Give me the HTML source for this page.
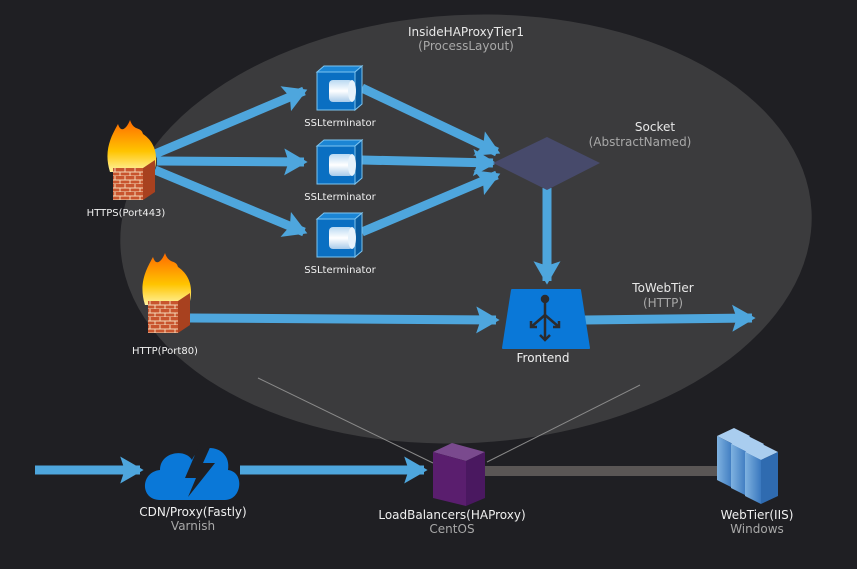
<!DOCTYPE html>
<html><head><meta charset="utf-8"><style>
body{margin:0;background:#1f1f23;}
svg{display:block}
text{font-family:"DejaVu Sans","Liberation Sans",sans-serif;}
</style></head><body>
<svg width="857" height="569" viewBox="0 0 857 569" xmlns="http://www.w3.org/2000/svg">
<defs>
<marker id="a" markerWidth="4" markerHeight="4" refX="2.2" refY="2" orient="auto" markerUnits="strokeWidth">
<path d="M0,0.5 L2.6,2 L0,3.5 L0.5,2 z" fill="#4ea6dd"/></marker>
<linearGradient id="fl" x1="0" y1="0" x2="0" y2="1"><stop offset="0" stop-color="#ff6a00"/><stop offset="0.6" stop-color="#ffc400"/><stop offset="1" stop-color="#fff3a0"/></linearGradient>
<pattern id="br" width="10" height="8" patternUnits="userSpaceOnUse"><rect width="10" height="8" fill="#c8552e"/><path d="M0,4H10M0,8H10M5,0V4M0,4V8M10,4V8" stroke="#f3d6b5" stroke-width="1"/></pattern>
<linearGradient id="cy" x1="0" y1="0" x2="0" y2="1"><stop offset="0" stop-color="#b9d9f2"/><stop offset="0.5" stop-color="#ffffff"/><stop offset="1" stop-color="#a8cbea"/></linearGradient>
<linearGradient id="sv" x1="0" y1="0" x2="1" y2="0"><stop offset="0" stop-color="#7fb2e0"/><stop offset="1" stop-color="#3a78bf"/></linearGradient>
</defs>
<ellipse cx="466" cy="229" rx="346" ry="214" transform="rotate(-3 466 229)" fill="#3b3b3d"/>
<text x="466" y="36" fill="#e8e8e8" font-size="12" text-anchor="middle">InsideHAProxyTier1</text>
<text x="466" y="50" fill="#a8a8a8" font-size="12" text-anchor="middle">(ProcessLayout)</text>
<line x1="258" y1="378" x2="433" y2="463" stroke="#8a8a8a" stroke-width="1"/>
<line x1="640" y1="385" x2="487" y2="462" stroke="#8a8a8a" stroke-width="1"/>
<g stroke="#4ea6dd" stroke-width="9" fill="none" marker-end="url(#a)">
<line x1="155" y1="154" x2="304" y2="91"/>
<line x1="157" y1="161" x2="304" y2="162"/>
<line x1="155" y1="170" x2="304" y2="232"/>
<line x1="362" y1="88" x2="497" y2="152"/>
<line x1="362" y1="160" x2="493" y2="163"/>
<line x1="362" y1="232" x2="497" y2="175"/>
<line x1="547" y1="188" x2="547" y2="281"/>
<line x1="190" y1="318" x2="496" y2="320"/>
<line x1="585" y1="320" x2="752" y2="318"/>
<line x1="35" y1="470" x2="140" y2="470"/>
<line x1="240" y1="470" x2="424" y2="470"/>
</g>
<line x1="485" y1="471" x2="722" y2="471" stroke="#5a5655" stroke-width="10"/>
<polygon points="493,163 547,137 600,163 547,190" fill="#474a6b"/>
<text x="655" y="131" fill="#e8e8e8" font-size="12" text-anchor="middle">Socket</text>
<text x="640" y="146" fill="#a8a8a8" font-size="12" text-anchor="middle">(AbstractNamed)</text>
<g id="ssl">
<rect x="317" y="72" width="38" height="38" fill="#0a6fc2" stroke="#7cc4f0" stroke-width="1"/>
<polygon points="317,72 324,66 362,66 355,72" fill="#1b85d4" stroke="#7cc4f0" stroke-width="1"/>
<polygon points="355,72 362,66 362,104 355,110" fill="#075a9e" stroke="#7cc4f0" stroke-width="1"/>
<rect x="329" y="80" width="24" height="22" rx="4" fill="url(#cy)"/>
<ellipse cx="352" cy="91" rx="4" ry="11" fill="#e6f2fb"/>
</g>
<use href="#ssl" y="74"/>
<use href="#ssl" y="147"/>
<g font-size="10" fill="#f0f0f0" text-anchor="middle">
<text x="340" y="126">SSLterminator</text>
<text x="340" y="200">SSLterminator</text>
<text x="340" y="273">SSLterminator</text>
</g>
<g id="fw">
<path d="M110,172 C103,150 112,135 118,124 C121,134 127,128 130,120 C134,132 141,126 143,134 C152,140 160,152 154,172 Z" fill="url(#fl)"/>
<polygon points="113,168 143,168 143,200 113,200" fill="url(#br)"/>
<polygon points="143,168 155,160 155,192 143,200" fill="#a8411f"/>
</g>
<use href="#fw" x="35" y="133"/>
<text x="126" y="216" fill="#f0f0f0" font-size="10" text-anchor="middle">HTTPS(Port443)</text>
<text x="165" y="354" fill="#f0f0f0" font-size="10" text-anchor="middle">HTTP(Port80)</text>
<polygon points="512,290 580,290 589,348 503,348" fill="#0a78d8" stroke="#0a78d8" stroke-width="2" stroke-linejoin="round"/>
<g stroke="#2b2b2d" stroke-width="2.5" fill="none">
<circle cx="545" cy="299" r="3" fill="#2b2b2d"/>
<line x1="545" y1="300" x2="545" y2="340"/>
<line x1="545" y1="315" x2="531" y2="327"/><line x1="545" y1="315" x2="559" y2="327"/>
<path d="M531,321V327H537M559,321V327H553M540,335L545,340L550,335"/>
</g>
<text x="543" y="362" fill="#f0f0f0" font-size="12" text-anchor="middle">Frontend</text>
<text x="663" y="292" fill="#e8e8e8" font-size="12" text-anchor="middle">ToWebTier</text>
<text x="663" y="307" fill="#a8a8a8" font-size="12" text-anchor="middle">(HTTP)</text>
<path d="M160,500 C140,500 140,472 160,470 C160,452 185,448 192,460 C200,440 232,446 228,470 C245,472 242,500 225,500 Z" fill="#0a78d8"/>
<polygon points="200,443 185,478 196,478 188,497 215,463 203,463 212,443" fill="#1f1f23"/>
<text x="193" y="516" fill="#f0f0f0" font-size="12" text-anchor="middle">CDN/Proxy(Fastly)</text>
<text x="193" y="530" fill="#a8a8a8" font-size="12" text-anchor="middle">Varnish</text>
<polygon points="433,452 452,443 485,452 466,461" fill="#7a4a8e"/>
<polygon points="433,452 466,461 466,506 433,498" fill="#5a1e6e"/>
<polygon points="466,461 485,452 485,498 466,506" fill="#4a1860"/>
<text x="452" y="519" fill="#f0f0f0" font-size="12" text-anchor="middle">LoadBalancers(HAProxy)</text>
<text x="452" y="533" fill="#a8a8a8" font-size="12" text-anchor="middle">CentOS</text>
<g id="srv">
<polygon points="717,436 734,428 750,436 733,444" fill="#a9cdef"/>
<polygon points="717,436 733,444 733,488 717,480" fill="url(#sv)"/>
<polygon points="733,444 750,436 750,480 733,488" fill="#2f6bb0"/>
</g>
<use href="#srv" x="14" y="8"/>
<use href="#srv" x="28" y="16"/>
<text x="757" y="519" fill="#f0f0f0" font-size="12" text-anchor="middle">WebTier(IIS)</text>
<text x="757" y="533" fill="#a8a8a8" font-size="12" text-anchor="middle">Windows</text>
</svg>
</body></html>
